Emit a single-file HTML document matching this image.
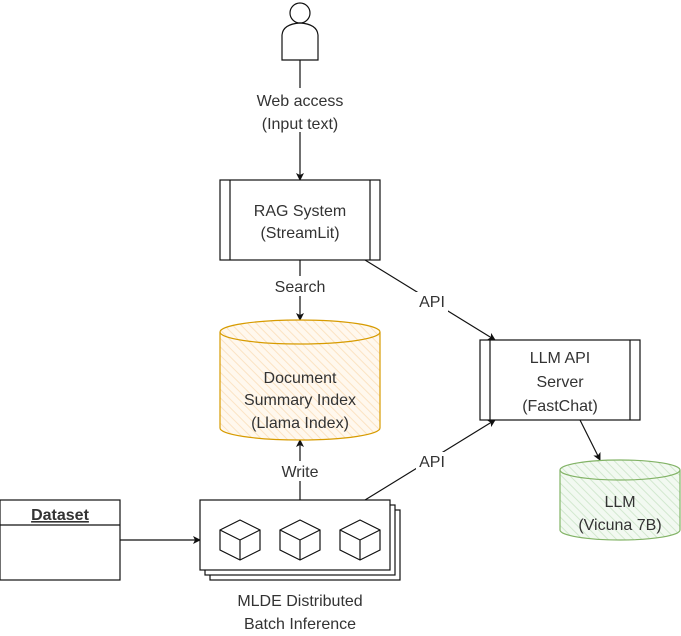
<!DOCTYPE html>
<html><head><style>html,body{margin:0;padding:0;background:#fff;}svg{display:block}</style></head><body>
<svg width="681" height="636" viewBox="0 0 681 636" xmlns="http://www.w3.org/2000/svg" font-family="Liberation Sans, sans-serif" font-size="16" fill="#333">
<defs>
<marker id="a" markerWidth="8" markerHeight="8" refX="7" refY="4" orient="auto" markerUnits="userSpaceOnUse"><path d="M0,0 L8,4 L0,8 L2,4 Z" fill="#111"/></marker>
<pattern id="ho" width="6" height="6" patternUnits="userSpaceOnUse" patternTransform="rotate(-45)"><rect width="6" height="6" fill="#fff8ee"/><line x1="0" y1="0" x2="0" y2="6" stroke="#fbe3c3" stroke-width="2"/></pattern>
<pattern id="hg" width="6" height="6" patternUnits="userSpaceOnUse" patternTransform="rotate(-45)"><rect width="6" height="6" fill="#f2f9f1"/><line x1="0" y1="0" x2="0" y2="6" stroke="#d2e8cf" stroke-width="2"/></pattern>
</defs>
<g stroke="#111" fill="none" stroke-width="1.2">
<!-- person -->
<circle cx="300" cy="13" r="10" fill="#fff"/>
<path d="M282,60 L282,35 Q283,24 300,23 Q317,24 318,35 L318,60 Z" fill="#fff"/>
<line x1="300" y1="60" x2="300" y2="180" marker-end="url(#a)"/>
<!-- RAG -->
<rect x="220" y="180" width="160" height="80" fill="#fff"/>
<line x1="230" y1="180" x2="230" y2="260"/><line x1="370" y1="180" x2="370" y2="260"/>
<line x1="300" y1="260" x2="300" y2="320" marker-end="url(#a)"/>
<line x1="365" y1="260" x2="495" y2="340" marker-end="url(#a)"/>
<!-- LLM API -->
<rect x="480" y="340" width="160" height="80" fill="#fff"/>
<line x1="490" y1="340" x2="490" y2="420"/><line x1="630" y1="340" x2="630" y2="420"/>
<line x1="580" y1="420" x2="600" y2="460" marker-end="url(#a)"/>
<line x1="365" y1="500" x2="495" y2="420" marker-end="url(#a)"/>
<line x1="300" y1="500" x2="300" y2="440" marker-end="url(#a)"/>
<!-- doc cylinder -->
<path d="M220,332 A80,12 0 0 1 380,332 L380,428 A80,12 0 0 1 220,428 Z" fill="url(#ho)" stroke="#d79b00"/>
<path d="M220,332 A80,12 0 0 0 380,332" stroke="#d79b00"/>
<!-- LLM cylinder -->
<path d="M560,470 A60,10 0 0 1 680,470 L680,530 A60,10 0 0 1 560,530 Z" fill="url(#hg)" stroke="#82b366"/>
<path d="M560,470 A60,10 0 0 0 680,470" stroke="#82b366"/>
<!-- dataset -->
<rect x="0" y="500" width="120" height="80" fill="#fff"/>
<line x1="0" y1="525" x2="120" y2="525"/>
<line x1="120" y1="540" x2="200" y2="540" marker-end="url(#a)"/>
<!-- MLDE -->
<rect x="210" y="510" width="190" height="70" fill="#fff"/>
<rect x="205" y="505" width="190" height="70" fill="#fff"/>
<rect x="200" y="500" width="190" height="70" fill="#fff"/>
<g id="c"><path d="M220,530 L240,520 L260,530 L260,550 L240,560 L220,550 Z" fill="#fff"/><path d="M220,530 L240,540 L260,530 M240,540 L240,560"/></g>
<use href="#c" x="60"/><use href="#c" x="120"/>
</g>
<g text-anchor="middle">
<rect x="244" y="88" width="112" height="44" fill="#fff"/>
<text x="300" y="106">Web access</text><text x="300" y="129">(Input text)</text>
<text x="300" y="216">RAG System</text><text x="300" y="238">(StreamLit)</text>
<rect x="266" y="276" width="68" height="20" fill="#fff"/><text x="300" y="292">Search</text>
<rect x="416" y="292" width="32" height="20" fill="#fff"/><text x="432" y="307">API</text>
<rect x="416" y="452" width="32" height="20" fill="#fff"/><text x="432" y="467">API</text>
<rect x="272" y="461" width="56" height="20" fill="#fff"/><text x="300" y="477">Write</text>
<text x="300" y="383">Document</text><text x="300" y="405">Summary Index</text><text x="300" y="428">(Llama Index)</text>
<text x="560" y="363">LLM API</text><text x="560" y="387">Server</text><text x="560" y="411">(FastChat)</text>
<text x="620" y="507">LLM</text><text x="620" y="530">(Vicuna 7B)</text>
<text x="60" y="520" font-weight="bold" text-decoration="underline">Dataset</text>
<text x="300" y="606">MLDE Distributed</text><text x="300" y="629">Batch Inference</text>
</g>
</svg>
</body></html>
